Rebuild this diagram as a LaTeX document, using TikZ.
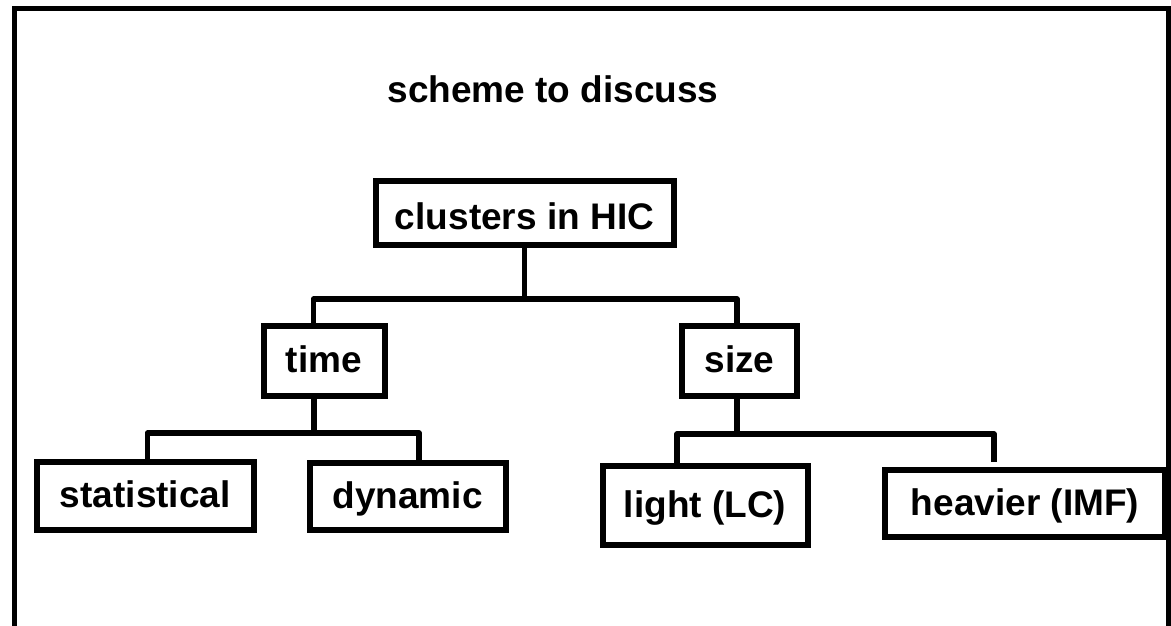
\documentclass[tikz,border=0pt]{standalone}
\usepackage{fontspec}
\setmainfont{Liberation Sans}
\usetikzlibrary{calc}

\begin{document}
\begin{tikzpicture}[x=1pt,y=-1pt,
  box/.style={draw=black, line width=6pt, fill=white, inner sep=0pt,
    text height=28pt, text depth=5pt,
    font=\fontsize{37}{44}\selectfont\bfseries},
  link/.style={black, line width=5.5pt, line join=round}]
 \useasboundingbox (0,0) rectangle (1171,626);
 % frame
 \draw[line width=5pt] (14.5,626) -- (14.5,8.5) -- (1168.5,8.5) -- (1168.5,626);

 \node[font=\fontsize{37}{44}\selectfont\bfseries] (title) at (553,89) {scheme to discuss};

 \node[box, minimum width=298, minimum height=64, text height=34pt, text depth=0pt] (clusters) at (524.5,212.5) {clusters in HIC};
 \node[box, minimum width=121, minimum height=70] (time) at (324,361) {time};
 \node[box, minimum width=115, minimum height=70] (size) at (739.5,360.6) {size};
 \node[box, minimum width=217, minimum height=68] (stat) at (145.3,496.3) {statistical};
 \node[box, minimum width=196, minimum height=67] (dyn) at (407.6,496.5) {dynamic};
 \node[box, minimum width=205, minimum height=79] (light) at (705,505.5) {light (LC)};
 \node[box, minimum width=280, minimum height=67] (heavy) at (1025,503.5) {heavier (IMF)};

 \coordinate (hub1) at (524.5,299);
 \coordinate (hub2) at (314,433);
 \coordinate (hub3) at (737,434);
 \coordinate (heavyend) at (994,462);

 \draw[link] (clusters.south) -- (hub1);
 \draw[link] ($(time.north)+(-10.5,0)$) |- (hub1) -| ($(size.north)+(-2.5,0)$);

 \draw[link] ($(time.south)+(-10,0)$) -- (hub2);
 \draw[link] ($(stat.north)+(2.2,0)$) |- (hub2) -| ($(dyn.north)+(11.4,0)$);

 \draw[link] ($(size.south)+(-2.5,0)$) -- (hub3);
 \draw[link] ($(light.north)+(-28,0)$) |- (hub3) -| (heavyend);
\end{tikzpicture}
\end{document}
